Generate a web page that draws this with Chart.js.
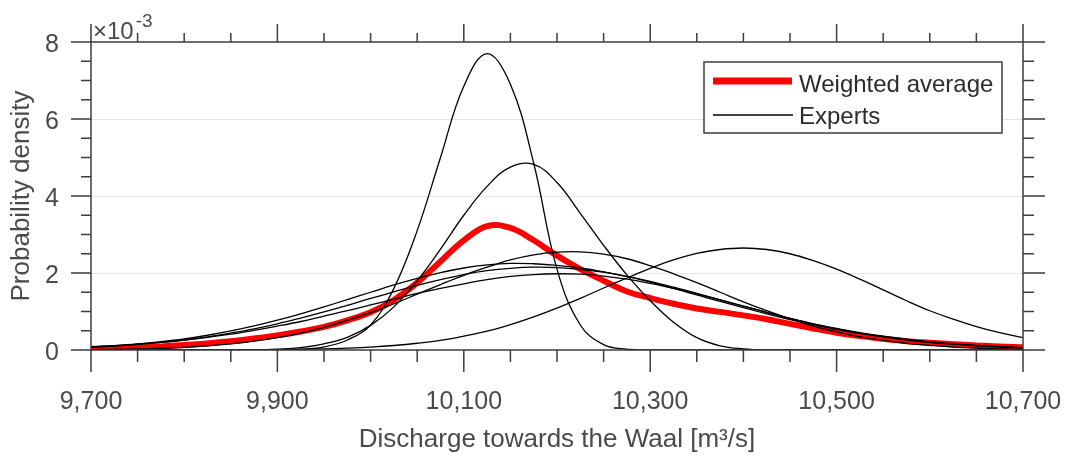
<!DOCTYPE html>
<html lang="en">
<head>
<meta charset="UTF-8">
<title>Discharge towards the Waal</title>
<script src="https://cdn.jsdelivr.net/npm/chart.js"></script>
<style>
  html, body { margin: 0; padding: 0; background: #fff; }
  #wrap { width: 1069px; height: 457px; position: relative; }
</style>
</head>
<body>
<div id="wrap"><canvas id="pdfChart"></canvas></div>
<script>
// discharge grid [m3/s]
const discharge = [9700, 9725, 9750, 9775, 9800, 9825, 9850, 9875, 9900, 9925, 9950, 9975,
  10000, 10025, 10050, 10075, 10100, 10125, 10150, 10175, 10200, 10225, 10250, 10275,
  10300, 10325, 10350, 10375, 10400, 10425, 10450, 10475, 10500, 10525, 10550, 10575,
  10600, 10625, 10650, 10675, 10700];

// probability densities, in units of 1e-3
const weightedAverage = [0.03, 0.04, 0.06, 0.09, 0.13, 0.17, 0.23, 0.30, 0.38, 0.48, 0.60, 0.77,
  0.98, 1.30, 1.75, 2.30, 2.85, 3.22, 3.17, 2.85, 2.45, 2.10, 1.80, 1.52,
  1.35, 1.20, 1.08, 0.99, 0.90, 0.80, 0.68, 0.56, 0.45, 0.36, 0.29, 0.23,
  0.19, 0.15, 0.12, 0.09, 0.07];

const expertA = [0, 0, 0, 0, 0, 0, 0, 0, 0, 0.02, 0.08, 0.26,
  0.65, 1.6, 3.1, 5.0, 6.85, 7.7, 6.9, 4.85, 2.1, 0.65, 0.14, 0.02,
  0, 0, 0, 0, 0, 0, 0, 0, 0, 0, 0, 0,
  0, 0, 0, 0, 0];
const expertB = [0, 0, 0, 0, 0, 0, 0, 0, 0.02, 0.06, 0.16, 0.33,
  0.64, 1.12, 1.8, 2.62, 3.5, 4.25, 4.75, 4.82, 4.35, 3.55, 2.72, 1.95,
  1.28, 0.72, 0.32, 0.11, 0.03, 0, 0, 0, 0, 0, 0, 0,
  0, 0, 0, 0, 0];
const expertC = [0, 0, 0, 0, 0, 0, 0.003, 0.006, 0.01, 0.018, 0.03, 0.048,
  0.075, 0.117, 0.175, 0.25, 0.36, 0.49, 0.66, 0.86, 1.09, 1.34, 1.61, 1.87,
  2.12, 2.34, 2.51, 2.61, 2.65, 2.61, 2.5, 2.32, 2.1, 1.84, 1.56, 1.28,
  1.02, 0.8, 0.61, 0.45, 0.32];
const expertD = [0.01, 0.017, 0.028, 0.045, 0.07, 0.107, 0.16, 0.23, 0.32, 0.44, 0.59, 0.77,
  0.97, 1.2, 1.45, 1.7, 1.94, 2.15, 2.34, 2.47, 2.54, 2.55, 2.49, 2.37,
  2.19, 1.98, 1.75, 1.5, 1.25, 1.02, 0.81, 0.62, 0.47, 0.34, 0.25, 0.17,
  0.12, 0.077, 0.049, 0.03, 0.019];
const expertE = [0.08, 0.114, 0.158, 0.217, 0.29, 0.383, 0.494, 0.624, 0.774, 0.94, 1.12, 1.31,
  1.5, 1.69, 1.86, 2.01, 2.13, 2.21, 2.25, 2.24, 2.2, 2.13, 2.03, 1.91,
  1.76, 1.6, 1.43, 1.26, 1.1, 0.94, 0.79, 0.65, 0.53, 0.43, 0.34, 0.26,
  0.2, 0.15, 0.11, 0.08, 0.06];
const expertF = [0.074, 0.104, 0.144, 0.196, 0.26, 0.34, 0.44, 0.55, 0.68, 0.83, 0.99, 1.16,
  1.34, 1.51, 1.68, 1.83, 1.96, 2.06, 2.12, 2.15, 2.14, 2.09, 2.02, 1.91,
  1.78, 1.63, 1.47, 1.3, 1.14, 0.98, 0.82, 0.68, 0.56, 0.45, 0.36, 0.28,
  0.21, 0.16, 0.12, 0.086, 0.062];
const expertG = [0.082, 0.111, 0.149, 0.196, 0.255, 0.326, 0.41, 0.51, 0.62, 0.74, 0.88, 1.02,
  1.17, 1.32, 1.47, 1.6, 1.72, 1.83, 1.91, 1.96, 1.98, 1.97, 1.92, 1.84,
  1.73, 1.6, 1.46, 1.3, 1.14, 0.98, 0.82, 0.68, 0.55, 0.44, 0.35, 0.27,
  0.2, 0.15, 0.11, 0.079, 0.056];

const experts = [expertA, expertB, expertC, expertD, expertE, expertF, expertG];

// labelled ticks
const xMajor = [9700, 9900, 10100, 10300, 10500, 10700];
const xTickLabels = ['9,700', '9,900', '10,100', '10,300', '10,500', '10,700'];
const yMajor = [0, 2, 4, 6, 8];
const yTickLabels = ['0', '2', '4', '6', '8'];

const legendLabels = ['Weighted average', 'Experts'];

const FONT = '"Liberation Sans", Arial, Helvetica, sans-serif';
const TEXT = '#4a4a4a';
const AXIS = '#3d3d3d';

function toPoints(values) {
    return discharge.map((d, i) => ({ x: d, y: values[i] }));
}

// box, outward tick marks, exponent and legend, drawn like MATLAB axes
const matlabAxes = {
    id: 'matlabAxes',
    afterDatasetsDraw(chart) {
        const { ctx, chartArea: a, scales: { x, y } } = chart;
        ctx.save();
        ctx.strokeStyle = AXIS;
        ctx.lineWidth = 1.5;
        ctx.strokeRect(a.left, a.top, a.right - a.left, a.bottom - a.top);

        ctx.beginPath();
        x.ticks.forEach(t => {
            const px = x.getPixelForValue(t.value);
            const major = xMajor.includes(t.value);
            ctx.moveTo(px, a.bottom);
            ctx.lineTo(px, a.bottom + (major ? 22 : 12));
            ctx.moveTo(px, a.top);
            ctx.lineTo(px, a.top - (major ? 18 : 9));
        });
        y.ticks.forEach(t => {
            const py = y.getPixelForValue(t.value);
            const major = yMajor.includes(t.value);
            ctx.moveTo(a.left, py);
            ctx.lineTo(a.left - (major ? 20 : 10), py);
            ctx.moveTo(a.right, py);
            ctx.lineTo(a.right + (major ? 22 : 11), py);
        });
        ctx.stroke();

        // exponent label
        ctx.fillStyle = TEXT;
        ctx.textBaseline = 'alphabetic';
        ctx.textAlign = 'left';
        ctx.font = '24px ' + FONT;
        ctx.fillText('\u00d710', a.left + 2, a.top - 3);
        const w = ctx.measureText('\u00d710').width;
        ctx.font = '19px ' + FONT;
        ctx.fillText('-3', a.left + 4 + w, a.top - 15);

        // legend
        const lx = 704, ly = 62, lw = 298, lh = 71;
        ctx.fillStyle = '#fff';
        ctx.fillRect(lx, ly, lw, lh);
        ctx.strokeStyle = AXIS;
        ctx.lineWidth = 1.5;
        ctx.strokeRect(lx, ly, lw, lh);

        ctx.beginPath();
        ctx.strokeStyle = '#ff0000';
        ctx.lineWidth = 7;
        ctx.moveTo(lx + 9, ly + 19);
        ctx.lineTo(lx + 88, ly + 19);
        ctx.stroke();

        ctx.beginPath();
        ctx.strokeStyle = '#000';
        ctx.lineWidth = 1.3;
        ctx.moveTo(lx + 9, ly + 53);
        ctx.lineTo(lx + 89, ly + 53);
        ctx.stroke();

        ctx.fillStyle = '#2b2b2b';
        ctx.font = '24px ' + FONT;
        ctx.fillText(legendLabels[0], lx + 95, ly + 30);
        ctx.fillText(legendLabels[1], lx + 95, ly + 62);
        ctx.restore();
    }
};

const datasets = experts.map(e => ({
    label: legendLabels[1],
    data: toPoints(e),
    borderColor: '#000',
    borderWidth: 1.3,
    pointRadius: 0,
    tension: 0.4,
    fill: false,
    order: 0
}));
datasets.push({
    label: legendLabels[0],
    data: toPoints(weightedAverage),
    borderColor: '#ff0000',
    borderWidth: 6,
    pointRadius: 0,
    tension: 0.4,
    fill: false,
    order: 5
});

new Chart(document.getElementById('pdfChart'), {
    type: 'line',
    data: { datasets: datasets },
    plugins: [matlabAxes],
    options: {
        responsive: true,
        maintainAspectRatio: false,
        animation: false,
        layout: { padding: { top: 42, right: 46, left: 0, bottom: 0 } },
        plugins: {
            legend: { display: false },
            tooltip: { enabled: false }
        },
        scales: {
            x: {
                type: 'linear',
                min: 9700,
                max: 10700,
                grid: { display: false, drawTicks: false },
                border: { display: false },
                ticks: {
                    stepSize: 50,
                    autoSkip: false,
                    maxRotation: 0,
                    padding: 37,
                    color: TEXT,
                    font: { family: FONT, size: 25 },
                    callback: v => {
                        const i = xMajor.indexOf(v);
                        return i >= 0 ? xTickLabels[i] : '';
                    }
                },
                title: {
                    display: true,
                    text: 'Discharge towards the Waal [m\u00b3/s]',
                    color: TEXT,
                    font: { family: FONT, size: 26 },
                    padding: { top: 0, bottom: 2 }
                },
                afterFit: s => {
                    s.height = 107;
                    s.paddingLeft = 0;
                    s.paddingRight = 0;
                }
            },
            y: {
                min: 0,
                max: 8,
                grid: {
                    drawTicks: false,
                    lineWidth: 1,
                    color: c => (c.tick && [2, 4, 6].includes(c.tick.value)) ? '#e4e4e4' : 'rgba(0,0,0,0)'
                },
                border: { display: false },
                ticks: {
                    stepSize: 0.5,
                    autoSkip: false,
                    padding: 32,
                    labelOffset: 3,
                    color: TEXT,
                    font: { family: FONT, size: 25 },
                    callback: v => {
                        const i = yMajor.indexOf(v);
                        return i >= 0 ? yTickLabels[i] : '';
                    }
                },
                title: {
                    display: true,
                    text: 'Probability density',
                    color: TEXT,
                    font: { family: FONT, size: 26 },
                    padding: { top: 6, bottom: 0 }
                },
                afterFit: s => {
                    s.width = 91;
                    s.paddingTop = 0;
                    s.paddingBottom = 0;
                }
            }
        }
    }
});
</script>
</body>
</html>
